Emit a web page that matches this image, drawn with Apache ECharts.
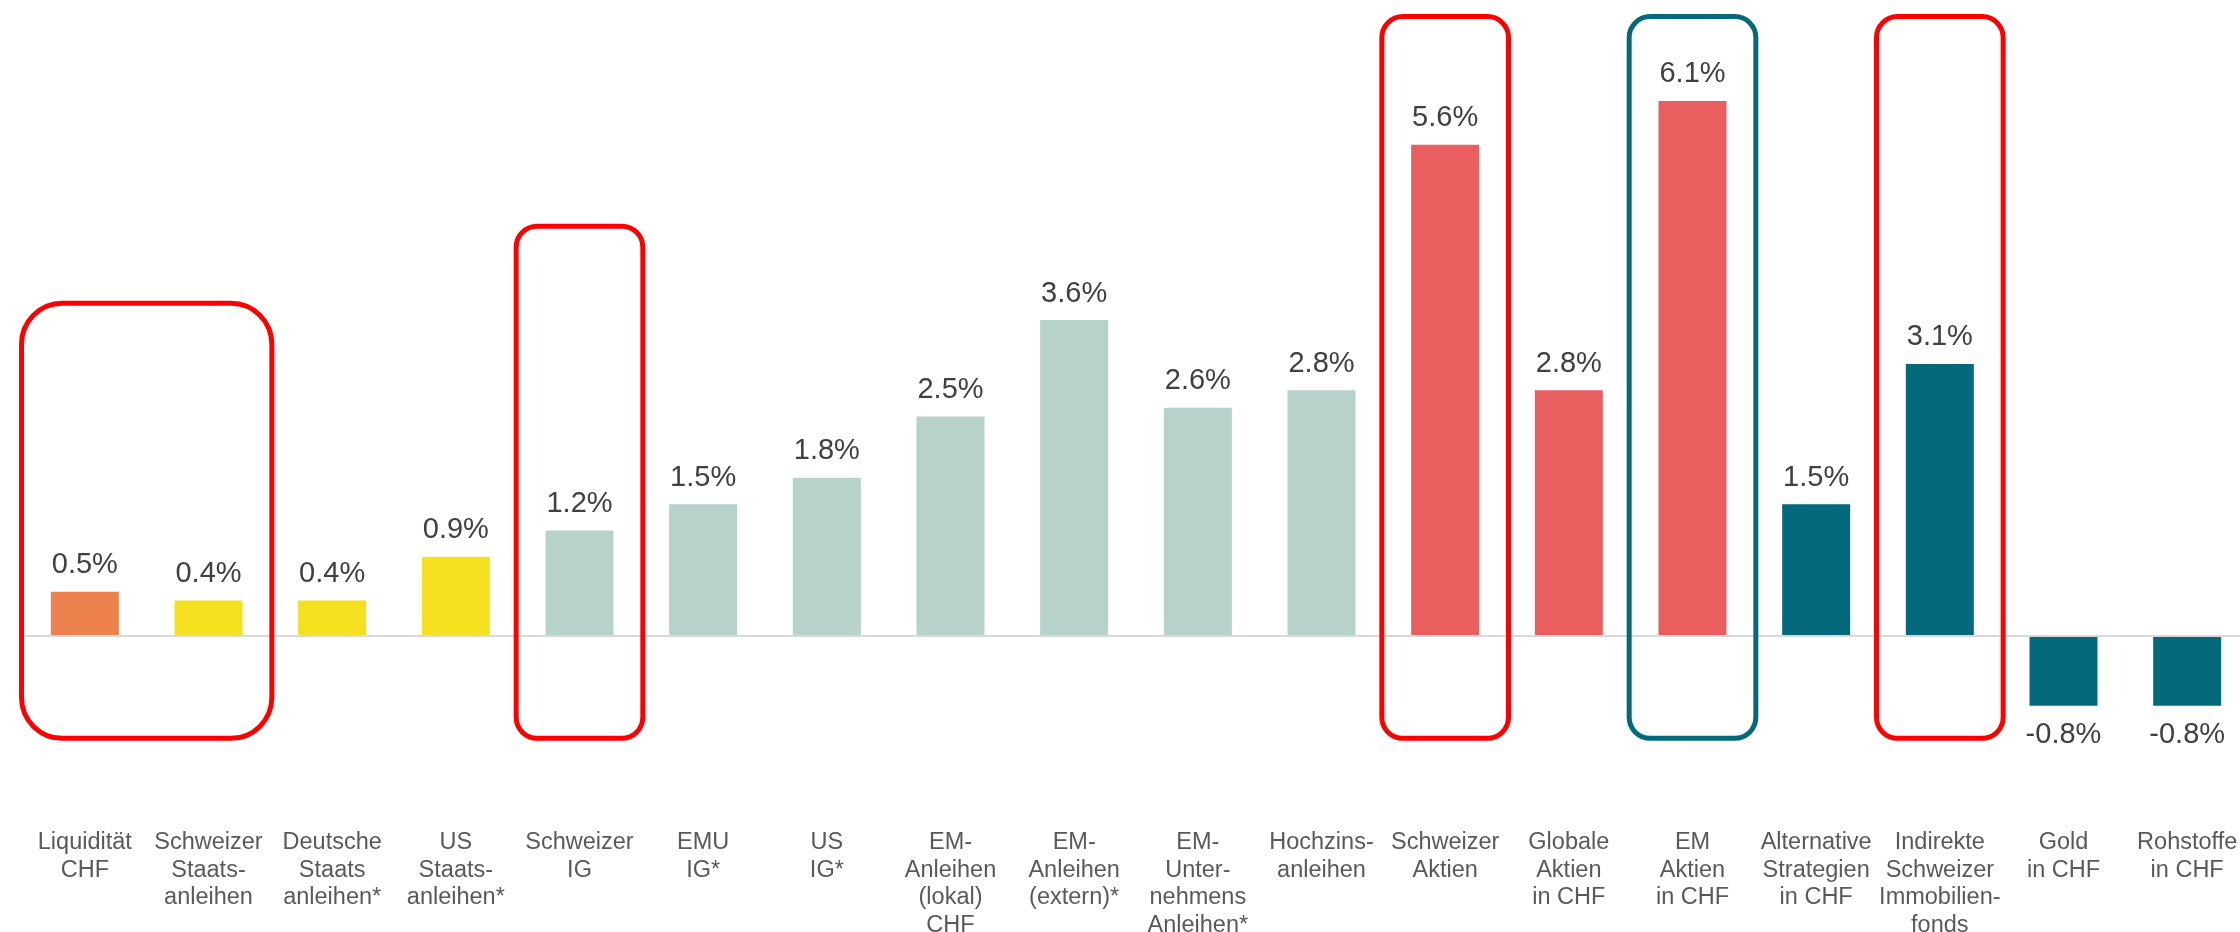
<!DOCTYPE html>
<html>
<head>
<meta charset="utf-8">
<script src="https://cdn.jsdelivr.net/npm/echarts@6/dist/echarts.min.js"></script>
<style>
  html, body { margin: 0; padding: 0; background: #fff; }
  #chart { width: 2240px; height: 932px; }
</style>
</head>
<body>
<div id="chart"></div>
<script>
// categories (line breaks as in the original)
var categories = [
  'Liquidität\nCHF', 'Schweizer\nStaats-\nanleihen', 'Deutsche\nStaats\nanleihen*', 'US\nStaats-\nanleihen*',
  'Schweizer\nIG', 'EMU\nIG*', 'US\nIG*', 'EM-\nAnleihen\n(lokal)\nCHF', 'EM-\nAnleihen\n(extern)*',
  'EM-\nUnter-\nnehmens\nAnleihen*', 'Hochzins-\nanleihen', 'Schweizer\nAktien', 'Globale\nAktien\nin CHF',
  'EM\nAktien\nin CHF', 'Alternative\nStrategien\nin CHF', 'Indirekte\nSchweizer\nImmobilien-\nfonds',
  'Gold\nin CHF', 'Rohstoffe\nin CHF'
];
var values = [0.5, 0.4, 0.4, 0.9, 1.2, 1.5, 1.8, 2.5, 3.6, 2.6, 2.8, 5.6, 2.8, 6.1, 1.5, 3.1, -0.8, -0.8];
// colour group per bar
var groups = ['cash', 'gov', 'gov', 'gov', 'bond', 'bond', 'bond', 'bond', 'bond', 'bond', 'bond',
  'equity', 'equity', 'equity', 'alt', 'alt', 'alt', 'alt'];
var groupColors = { cash: '#EE824F', gov: '#F4E01F', bond: '#B7D1CB', equity: '#E95F5F', alt: '#04697B' };

// highlight boxes: first/last category index, top and bottom in % units, colour
var boxFrom = [0, 4, 11, 13, 15];
var boxTo = [1, 4, 11, 13, 15];
var boxTop = [3.82, 4.70, 7.09, 7.09, 7.09];
var boxBottom = -1.2;
var boxColor = ['#FF0000', '#FF0000', '#FF0000', '#046A7B', '#FF0000'];

var chart = echarts.init(document.getElementById('chart'));

var barData = values.map(function (v, i) {
  return {
    value: v,
    itemStyle: { color: groupColors[groups[i]] },
    label: { position: v < 0 ? 'bottom' : 'top', distance: v < 0 ? 15 : 12 }
  };
});

chart.setOption({
  animation: false,
  backgroundColor: '#fff',
  grid: { left: 23, width: 2226, top: 22, bottom: 121, outerBoundsMode: 'none', containLabel: false },
  xAxis: {
    type: 'category',
    data: categories,
    axisLine: { show: false, onZero: false },
    axisTick: { show: false },
    axisLabel: {
      interval: 0,
      margin: 18,
      color: '#595959',
      fontFamily: 'Liberation Sans, Arial, sans-serif',
      fontSize: 23.5,
      lineHeight: 27.5
    }
  },
  yAxis: {
    type: 'value',
    min: -2,
    max: 7,
    show: false,
    splitLine: { show: false }
  },
  series: [{
    type: 'bar',
    data: barData,
    barWidth: 68,
    label: {
      show: true,
      color: '#404040',
      fontFamily: 'Liberation Sans, Arial, sans-serif',
      fontSize: 29,
      formatter: function (p) { return p.value.toFixed(1) + '%'; }
    },
    // zero line
    markLine: {
      silent: true,
      symbol: 'none',
      label: { show: false },
      lineStyle: { color: '#D9D9D9', width: 2, type: 'solid' },
      data: [{ yAxis: 0 }]
    }
  }]
});

// draw the rounded highlight boxes from the axis scales
var c0 = chart.convertToPixel({ xAxisIndex: 0 }, 0);
var c1 = chart.convertToPixel({ xAxisIndex: 0 }, 1);
var band = c1 - c0;
var lw = 5;
var boxes = boxFrom.map(function (f, i) {
  var left = chart.convertToPixel({ xAxisIndex: 0 }, f) - band / 2 - 4;
  var right = chart.convertToPixel({ xAxisIndex: 0 }, boxTo[i]) + band / 2 + 4;
  var top = chart.convertToPixel({ yAxisIndex: 0 }, boxTop[i]);
  var bottom = chart.convertToPixel({ yAxisIndex: 0 }, boxBottom);
  var w = right - left;
  return {
    type: 'rect',
    z: 100,
    shape: {
      x: left + lw / 2, y: top + lw / 2,
      width: w - lw, height: bottom - top - lw,
      r: w * 0.16
    },
    style: { fill: 'none', stroke: boxColor[i], lineWidth: lw }
  };
});
chart.setOption({ graphic: boxes });
</script>
</body>
</html>
